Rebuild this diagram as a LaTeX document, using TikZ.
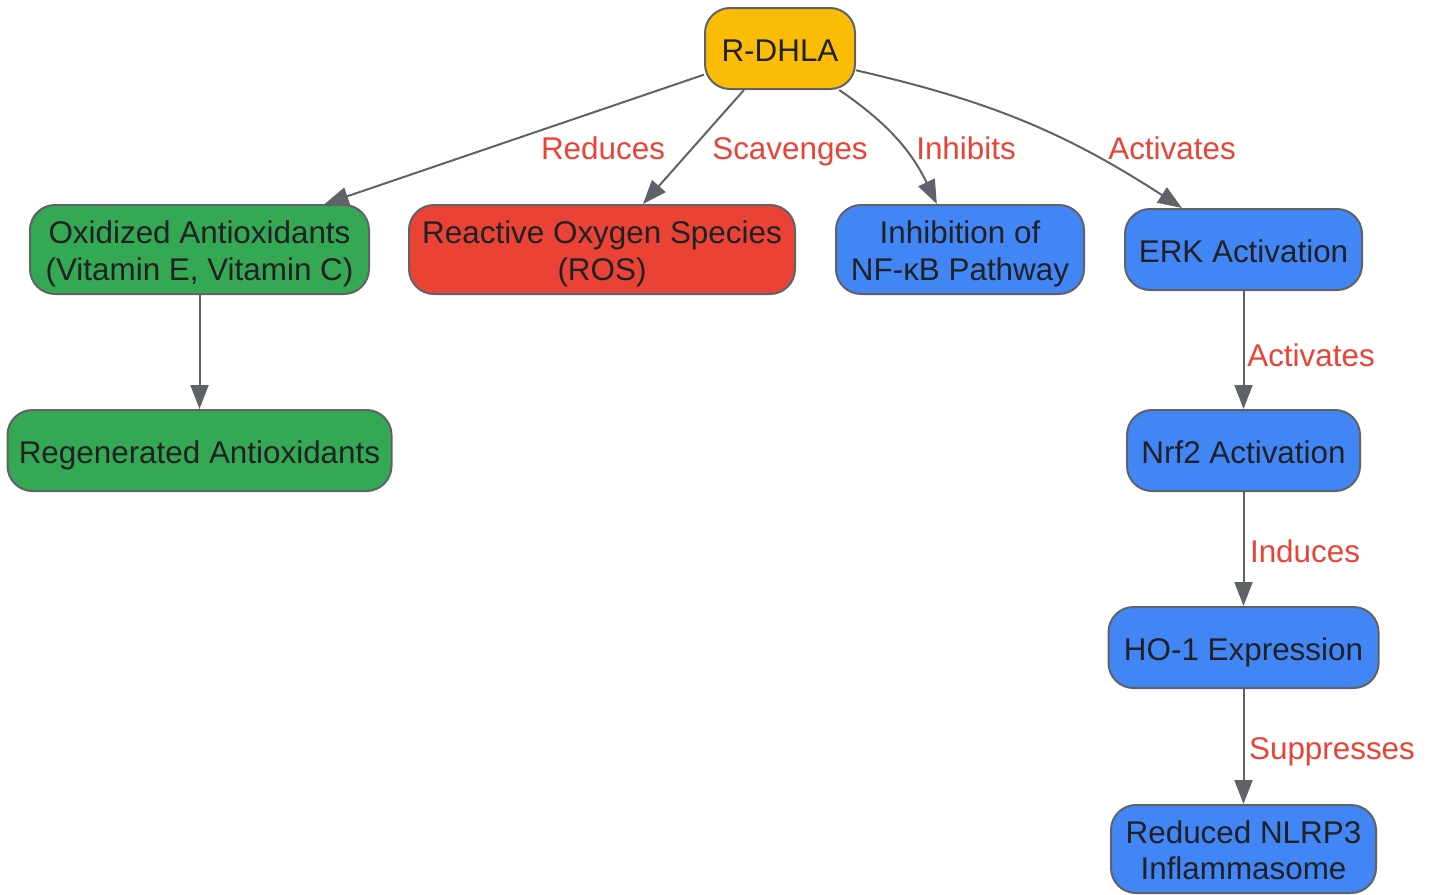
\documentclass[tikz,border=0pt]{standalone}
\usepackage{fontspec}
\setmainfont{Liberation Sans}
\usetikzlibrary{arrows.meta}
\definecolor{gyellow}{HTML}{FBBC05}
\definecolor{ggreen}{HTML}{34A853}
\definecolor{gred}{HTML}{EA4335}
\definecolor{gblue}{HTML}{4285F4}
\definecolor{ggray}{HTML}{5F6368}
\definecolor{gdark}{HTML}{202124}

\begin{document}
\begin{tikzpicture}[x=0.5pt,y=0.5pt]
            \tikzset{
            dh node/.style={draw=ggray,line width=1pt,rounded corners=12.5pt,inner sep=0,align=center,text=gdark,font=\fontsize{15.7}{18.25}\selectfont,text height=14.5pt,text depth=2pt},
            dh two/.style={text height=32.5pt,text depth=2pt},
            dh edge/.style={color=ggray,line width=1pt,-{Triangle[length=12pt,width=9pt]}},
            dh label/.style={text=gred,inner sep=0,font=\fontsize{15.7}{18.25}\selectfont,text height=11.25pt,text depth=0pt}
            }
            \useasboundingbox (0,0) rectangle (1433,-894);
            \node[dh node,fill=gyellow,minimum width=75pt,minimum height=40.5pt] (rdhla) at (780,-48.5) {R-DHLA};
            \node[dh node,dh two,fill=ggreen,minimum width=169.5pt,minimum height=44.5pt] (oxi) at (199.5,-249.5) {Oxidized Antioxidants\\(Vitamin E, Vitamin C)};
            \node[dh node,dh two,fill=gred,minimum width=193pt,minimum height=44.5pt] (ros) at (602,-249.5) {Reactive Oxygen Species\\(ROS)};
            \node[dh node,dh two,fill=gblue,minimum width=124pt,minimum height=44.5pt] (inh) at (960,-249.5) {Inhibition of\\NF-κB Pathway};
            \node[dh node,fill=gblue,minimum width=118.5pt,minimum height=40.5pt] (erk) at (1243.5,-249.5) {ERK Activation};
            \node[dh node,fill=ggreen,minimum width=192pt,minimum height=40.5pt] (regen) at (199.5,-450.5) {Regenerated Antioxidants};
            \node[dh node,fill=gblue,minimum width=116.5pt,minimum height=40.5pt] (nrf2) at (1243.5,-450.5) {Nrf2 Activation};
            \node[dh node,fill=gblue,minimum width=135pt,minimum height=40.5pt] (ho1) at (1243.5,-647.5) {HO-1 Expression};
            \node[dh node,dh two,fill=gblue,minimum width=132.5pt,minimum height=44pt] (nlrp3) at (1243.5,-849) {Reduced NLRP3\\Inflammasome};

            \node[dh label] (L1) at (603,-148) {Reduces};
            \node[dh label] (L2) at (790,-148) {Scavenges};
            \node[dh label] (L3) at (966,-148) {Inhibits};
            \node[dh label] (L4) at (1172,-148) {Activates};
            \node[dh label] (L5) at (1311,-355) {Activates};
            \node[dh label] (L6) at (1305,-551) {Induces};
            \node[dh label] (L7) at (1332,-748) {Suppresses};

            \path
            (rdhla.199) edge[dh edge] (oxi.20)
            (rdhla.229) edge[dh edge] (ros.48)
            (rdhla.-35) edge[dh edge,bend left=15] (inh.117)
            (rdhla.-16) edge[dh edge,bend left=10] (erk.146)
            (oxi) edge[dh edge] (regen)
            (erk) edge[dh edge] (nrf2)
            (nrf2) edge[dh edge] (ho1)
            (ho1) edge[dh edge] (nlrp3)
            ;
        \end{tikzpicture}
\end{document}
